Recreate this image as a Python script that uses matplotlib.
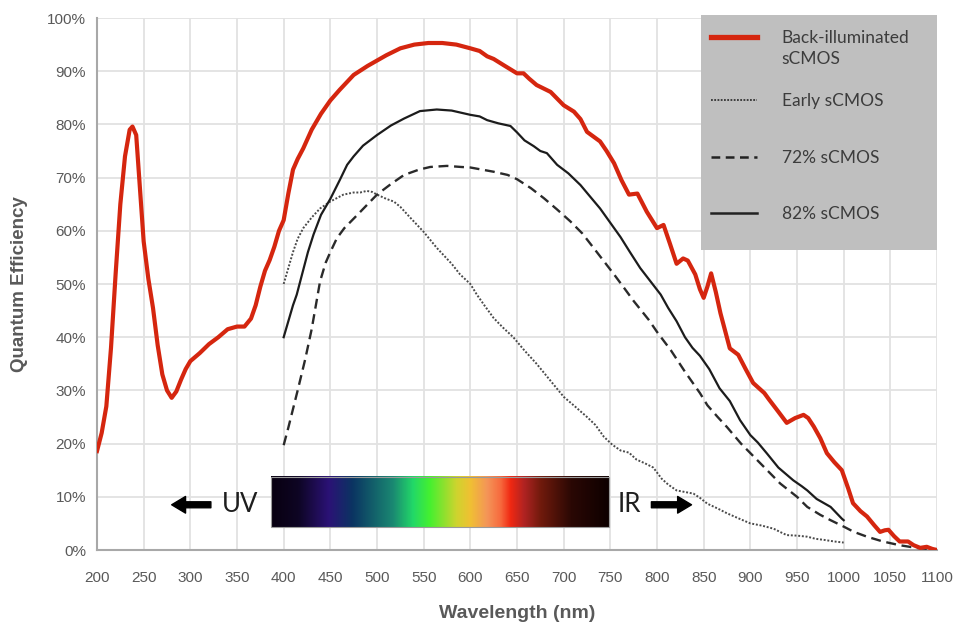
import numpy as np
import matplotlib
matplotlib.use("Agg")
import matplotlib.pyplot as plt
from matplotlib.colors import LinearSegmentedColormap
from matplotlib.patches import Rectangle, FancyArrowPatch
from matplotlib.lines import Line2D

# Back-illuminated sCMOS
bi_wl = [200, 205, 210, 215, 220, 225, 230, 235, 238, 242, 246, 250, 255, 260, 265, 270, 275, 280,
         285, 290, 295, 300, 310, 320, 330, 340, 350, 358, 365, 370, 375, 380, 385, 390, 395, 400,
         405, 410, 415, 421, 430, 440, 450, 460, 475, 490, 500, 510, 525, 540, 555, 570, 585, 600,
         610, 618, 625, 636, 650, 657, 663, 671, 686, 700, 711, 718, 725, 739, 746, 754, 762, 770,
         779, 789, 800, 807, 814, 821, 828, 833, 841, 846, 850, 854, 858, 863, 868, 878, 887, 895,
         903, 915, 920, 930, 939, 948, 957, 962, 968, 975, 982, 990, 998, 1005, 1010, 1018, 1025,
         1033, 1039, 1044, 1048, 1054, 1060, 1069, 1075, 1082, 1089, 1095, 1100]
bi_qe = [18.6, 22, 27, 38, 52, 65, 74, 79, 79.6, 78, 68, 58, 51, 45.5, 38.5, 33, 30, 28.6,
         29.8, 32, 34, 35.5, 37, 38.7, 40, 41.5, 42, 42, 43.5, 46, 49.5, 52.5, 54.5, 57, 60, 62,
         67, 71.5, 73.5, 75.5, 79, 82, 84.5, 86.5, 89.3, 91, 92, 93, 94.3, 95, 95.3, 95.3, 95, 94.3,
         93.8, 92.8, 92.3, 91.1, 89.6, 89.6, 88.6, 87.4, 86.1, 83.6, 82.4, 81, 78.6, 76.8, 75, 72.7, 69.5, 66.8,
         67, 63.6, 60.5, 61.1, 57.5, 53.8, 54.8, 54.4, 51.8, 49, 47.4, 49.5, 52, 48.5, 44.5, 37.9, 36.7, 34,
         31.4, 29.5, 28.3, 26, 23.9, 24.8, 25.4, 24.8, 23.2, 21, 18.2, 16.5, 15, 11.5, 8.8, 7.3, 6.3,
         4.6, 3.4, 3.7, 3.8, 2.6, 1.6, 1.6, 0.9, 0.4, 0.6, 0.2, 0]

# 82% sCMOS
s82_wl = [400, 405, 410, 414, 420, 426, 432, 440, 450, 460, 468, 475, 485, 500, 515, 529, 546, 564,
          580, 600, 610, 618, 630, 643, 650, 658, 668, 675, 682, 693, 705, 718, 728, 739, 750, 761,
          771, 782, 793, 804, 812, 821, 830, 838, 846, 856, 867, 878, 889, 900, 908, 918, 930, 946,
          955, 961, 971, 986, 998, 1000]
s82_qe = [40, 43, 46, 48, 52, 56, 59.3, 63, 66, 69.5, 72.4, 74, 76, 78, 79.8, 81.1, 82.5, 82.8,
          82.6, 81.8, 81.5, 80.8, 80.2, 79.7, 78.5, 77, 75.9, 75, 74.6, 72.4, 70.8, 68.6, 66.5, 64.2, 61.5, 58.8,
          56, 53, 50.5, 48, 45.5, 43, 40, 38, 36.5, 34, 30.4, 28, 24.4, 21.6, 20.2, 18.1, 15.5, 13.1,
          12, 11.2, 9.6, 8.1, 5.9, 5.6]

# 72% sCMOS
s72_wl = [400, 405, 410, 415, 423, 430, 439, 445, 450, 457, 465, 479, 490, 500, 515, 529, 545, 557,
          575, 590, 600, 625, 640, 650, 665, 679, 693, 707, 720, 732, 743, 754, 765, 775, 791, 800,
          815, 830, 846, 854, 865, 875, 890, 904, 918, 932, 950, 961, 975, 986, 1000, 1011, 1025,
          1042, 1060, 1078, 1090, 1100]
s72_qe = [19.7, 23, 26.5, 30, 35.8, 41.5, 50.5, 54, 56, 58.6, 60.5, 63, 65, 66.8, 68.8, 70.5, 71.5, 72,
          72.2, 72, 71.9, 71.1, 70.5, 69.7, 68, 66.1, 64, 61.8, 59.5, 56.8, 54.3, 51.8, 49.2, 46.8, 43.3, 41,
          37.5, 33.5, 29.5, 27.2, 25, 23.1, 20, 17.5, 15, 12.5, 10, 8.1, 6.6, 5.6, 4.4, 3.4, 2.5,
          1.6, 0.9, 0.4, 0.2, 0]

# Early sCMOS
early_wl = [400, 405, 410, 415, 421, 430, 439, 450, 464, 475, 482, 489, 495, 500, 510, 518, 525, 536,
            550, 564, 580, 589, 600, 607, 615, 625, 635, 646, 658, 671, 685, 700, 712, 725, 734, 743,
            752, 761, 770, 778, 787, 796, 805, 812, 821, 830, 839, 846, 854, 865, 875, 888, 900, 912,
            925, 933, 939, 950, 961, 970, 979, 990, 1000]
early_qe = [50, 53, 56, 58.5, 60.5, 62.5, 64.2, 65.5, 66.8, 67.2, 67.2, 67.5, 67.3, 66.8, 66, 65.5, 64.5, 62.4,
            59.8, 56.8, 53.8, 51.8, 50, 48, 46, 43.6, 41.8, 40, 37.5, 35, 32, 28.8, 27, 25, 23.5, 21.3,
            19.8, 18.7, 18.3, 17, 16.3, 15.5, 13.4, 12.3, 11.2, 10.9, 10.6, 9.8, 8.7, 7.8, 6.9, 5.9, 5, 4.6,
            4, 3.3, 2.8, 2.7, 2.5, 2.1, 1.9, 1.6, 1.4]

x_ticks = list(range(200, 1101, 50))
y_ticks = list(range(0, 101, 10))
legend_labels = ["Back-illuminated\nsCMOS", "Early sCMOS", "72% sCMOS", "82% sCMOS"]

# spectrum strip colours (position, colour)
spec_stops = [(0.0, "#080010"), (0.08, "#0e0524"), (0.17, "#2b1276"), (0.24, "#0b3462"),
              (0.36, "#1a8872"), (0.42, "#22d868"), (0.47, "#45f030"), (0.55, "#cfd42e"),
              (0.59, "#f0c033"), (0.64, "#f49558"), (0.68, "#f76a3e"), (0.71, "#f02812"),
              (0.75, "#b02322"), (0.80, "#701a0c"), (0.89, "#2a0804"), (1.0, "#0e0000")]

RED = "#d5260f"
GRID = "#e2e2e2"
TXT = "#595959"
TICKFONT = ["Liberation Sans", "DejaVu Sans"]

fig = plt.figure(figsize=(9.57, 6.28), dpi=100)
ax = fig.add_axes([97 / 957, 1 - 550 / 628, 840 / 957, 532 / 628])

ax.set_xlim(200, 1100)
ax.set_ylim(0, 100)
ax.set_xticks(x_ticks)
ax.set_yticks(y_ticks)
ax.set_yticklabels(["{}%".format(v) for v in y_ticks])
ax.grid(True, color=GRID, lw=1.3)
ax.set_axisbelow(True)
for s in ["top", "right"]:
    ax.spines[s].set_visible(False)
for s in ["left", "bottom"]:
    ax.spines[s].set_color("#a8a8a8")
    ax.spines[s].set_linewidth(1.5)
ax.tick_params(axis="both", length=0, colors=TXT, labelsize=11)
ax.tick_params(axis="x", pad=15)
ax.tick_params(axis="y", pad=8)
for lab in ax.get_xticklabels() + ax.get_yticklabels():
    lab.set_family(TICKFONT)

ax.set_xlabel("Wavelength (nm)", family=TICKFONT, fontsize=14, fontweight="bold", color=TXT)
ax.set_ylabel("Quantum Efficiency", family=TICKFONT, fontsize=13.5, fontweight="bold", color=TXT)
ax.xaxis.set_label_coords(0.5, -(605 - 550) / 532)
ax.yaxis.set_label_coords(-(97 - 28) / 840, 0.5)

# curves
ax.plot(early_wl, early_qe, color="#4a4a4a", lw=1.4, ls=(0, (1, 0.9)), zorder=4)
ax.plot(s72_wl, s72_qe, color="#2a2a2a", lw=1.7, ls=(0, (4.2, 2.4)), zorder=4)
ax.plot(s82_wl, s82_qe, color="#1c1c1c", lw=1.6, zorder=4)
ax.plot(bi_wl, bi_qe, color=RED, lw=3.0, solid_joinstyle="round", zorder=5)

# spectrum strip
cmap = LinearSegmentedColormap.from_list("spec", spec_stops)
grad = np.linspace(0, 1, 512).reshape(1, -1)
strip = (386.5, 748.5, 4.3, 13.7)
ax.imshow(grad, cmap=cmap, extent=strip, aspect="auto", zorder=6, interpolation="bilinear")
ax.add_patch(Rectangle((strip[0], strip[2]), strip[1] - strip[0], strip[3] - strip[2],
                       fill=False, ec="#9a9a9a", lw=0.8, zorder=7))

# UV / IR markers
arr_y = 8.5
for tail, tip in [(322, 280), (794, 837)]:
    ax.add_patch(FancyArrowPatch((tail, arr_y), (tip, arr_y), mutation_scale=1,
                                 arrowstyle="simple,head_length=10,head_width=12,tail_width=4.3",
                                 color="black", shrinkA=0, shrinkB=0, zorder=7))
ax.text(353, arr_y, "UV", ha="center", va="center", fontsize=18.5, family=["Lato", "DejaVu Sans"],
        fontweight="normal", color="#1e1e1e", zorder=7)
ax.text(770, arr_y, "IR", ha="center", va="center", fontsize=18.5, family=["Lato", "DejaVu Sans"],
        fontweight="normal", color="#1e1e1e", zorder=7)

# legend box (drawn by hand to match the original layout)
ax.add_patch(Rectangle((0.719, 0.564), 0.281, 0.442, transform=ax.transAxes,
                       facecolor="#bfbfbf", edgecolor="none", zorder=8, clip_on=False))
leg_styles = [dict(color=RED, lw=3.8), dict(color="#333333", lw=1.3, ls=(0, (1, 0.8))),
              dict(color="#222222", lw=1.8, ls=(0, (3.5, 2.2))), dict(color="#222222", lw=1.8)]
leg_rows = [0.964, 0.846, 0.739, 0.633]
for lbl, st, yy in zip(legend_labels, leg_styles, leg_rows):
    ax.add_line(Line2D([0.731, 0.786], [yy, yy], transform=ax.transAxes, zorder=9, clip_on=False, **st))
    ax.text(0.815, yy + 0.013, lbl, transform=ax.transAxes, ha="left", va="top", fontsize=12.5,
            family=["Lato", "DejaVu Sans"], color="#3c3c3c", linespacing=1.35, zorder=9)

fig.savefig("out.png", dpi=100, facecolor="white")
